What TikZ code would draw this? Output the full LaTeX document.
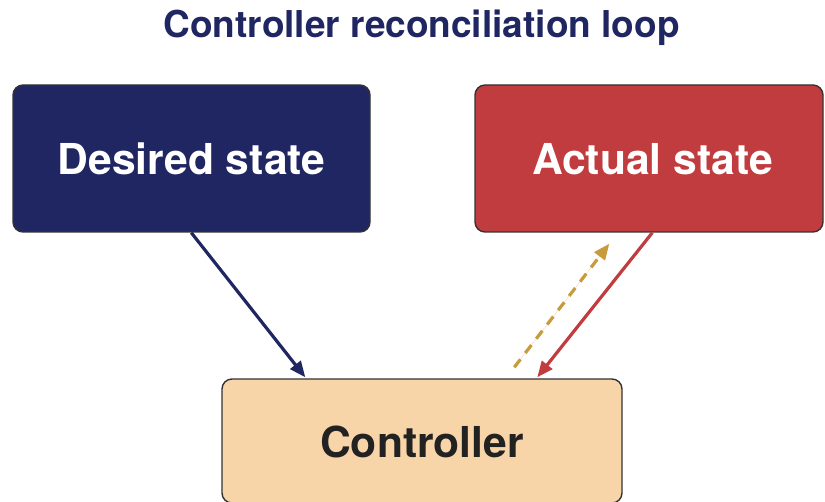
\documentclass[tikz,border=0pt]{standalone}
\usepackage{fontspec}
\setmainfont{TeX Gyre Heros}
\usetikzlibrary{arrows.meta}

\definecolor{navy}{HTML}{1F2661}
\definecolor{brick}{HTML}{C03C3F}
\definecolor{peach}{HTML}{F7D5A8}
\definecolor{ochre}{HTML}{C89B3C}
\definecolor{ink}{HTML}{222222}
\definecolor{edge}{HTML}{333333}

\tikzset{
  statebox/.style={draw=edge, line width=1.4pt, rounded corners=10pt,
    inner sep=0pt, minimum height=147pt},
  boxtext/.style={anchor=base, font=\bfseries\fontsize{42.6}{48}\selectfont, inner sep=0pt},
  flow/.style={line width=3.2pt, -{Triangle[length=16pt,width=13pt]}},
  probe/.style={flow, dash pattern=on 10pt off 8pt},
}

\begin{document}
\begin{tikzpicture}[x=1pt, y=-1pt]
  \useasboundingbox (0,0) rectangle (825,502);

  % title
  \node[anchor=base, inner sep=0pt, text=navy,
        font=\bfseries\fontsize{37}{42}\selectfont] (title) at (421.5,38) {Controller reconciliation loop};

  % the three boxes
  \node[statebox, fill=navy, minimum width=357pt] (desired) at (191.5,158.5) {};
  \node[statebox, fill=brick, minimum width=348pt] (actual) at (649,158.5) {};
  \node[statebox, fill=peach, minimum width=400pt, minimum height=124pt] (ctrl) at (422,441) {};

  \node[boxtext, text=white] (desiredtxt) at (191.5,174.5) {Desired state};
  \node[boxtext, text=white] (actualtxt) at (652.5,174.5) {Actual state};
  \node[boxtext, text=ink] (ctrltxt) at (422,458) {Controller};

  % desired state feeds the controller
  \draw[flow, draw=navy, fill=navy]
    ([xshift=179pt]desired.south west) -- ([xshift=84pt,yshift=1pt]ctrl.north west);
  % observed state feeds the controller
  \draw[flow, draw=brick, fill=brick]
    ([xshift=178pt]actual.south west) -- ([xshift=316pt,yshift=1pt]ctrl.north west);
  % controller acts on the actual state
  \draw[probe, draw=ochre, fill=ochre]
    ([xshift=293pt,yshift=11pt]ctrl.north west) -- ([xshift=135pt,yshift=-11pt]actual.south west);
\end{tikzpicture}
\end{document}
